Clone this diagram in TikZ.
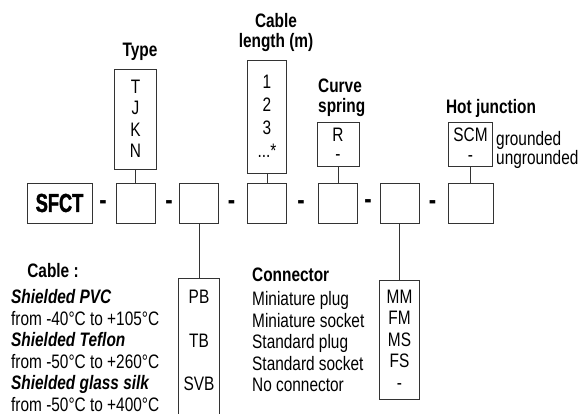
\documentclass[tikz,border=0pt]{standalone}
\usepackage{fontspec}
\setmainfont{Liberation Sans}[FakeStretch=0.79]
\newfontfamily\logofont{Liberation Sans}[FakeStretch=0.7,FakeBold=1.5]

\begin{document}
\begin{tikzpicture}[x=1pt,y=-1pt,font=\fontsize{19.5}{21.5}\selectfont]
\tikzstyle{codebox} = [rectangle, draw=black!80, line width=0.9pt, minimum width=39pt, minimum height=40pt, inner sep=0pt]
\tikzstyle{listbox} = [rectangle, draw=black!80, line width=0.9pt, align=center, inner sep=0pt]
\tikzstyle{heading} = [font=\fontsize{19.5}{20}\selectfont\bfseries, align=left, inner sep=0pt]
\tikzstyle{entry} = [align=left, inner sep=0pt]
\tikzstyle{sepdash} = [font=\fontsize{28}{28}\selectfont\bfseries, inner sep=0pt]

\useasboundingbox (0,0) rectangle (579,414);

% code row
\node(logo) [codebox, minimum width=65pt, font=\logofont\bfseries\fontsize{26}{26}\selectfont] at (59.5,203) {SFCT};
\node(dash1) [sepdash] at (103,205) {-};
\node(typecode) [codebox] at (135.5,203) {};
\node(dash2) [sepdash] at (169,205) {-};
\node(cablecode) [codebox] at (199,203) {};
\node(dash3) [sepdash] at (231.5,205) {-};
\node(lengthcode) [codebox] at (267,203) {};
\node(dash4) [sepdash] at (301,205) {-};
\node(springcode) [codebox] at (338,203) {};
\node(dash5) [sepdash] at (368,204) {-};
\node(connectorcode) [codebox] at (399.5,203) {};
\node(dash6) [sepdash] at (432.5,205) {-};
\node(junctioncode) [codebox, minimum width=45pt] at (470.5,203) {};

% options above
\node(typehead) [heading] at (140,52) {Type};
\node(types) [listbox, minimum width=42pt, minimum height=100pt] at (135.5,119) {T\\J\\K\\N};
\node(lengthhead) [heading, align=center] at (276,33) {Cable\\length (m)};
\node(lengths) [listbox, minimum width=39pt, minimum height=113pt, font=\fontsize{19.5}{23}\selectfont] at (267,116.5) {1\\2\\3\\...*};
\node(springhead) [heading, anchor=west] at (318,98) {Curve\\spring};
\node(springs) [listbox, minimum width=42pt, minimum height=44pt, font=\fontsize{19.5}{19.5}\selectfont] at (338,144.5) {R\\-};
\node(junctionhead) [heading] at (491,108) {Hot junction};
\node(junctions) [listbox, minimum width=44pt, minimum height=44pt, font=\fontsize{19.5}{19.5}\selectfont] at (470.5,144.5) {SCM\\-};
\node(junctionnames) [entry, anchor=west, font=\fontsize{19.5}{19}\selectfont] at (496,150) {grounded\\ungrounded};

% options below
\node(cablehead) [heading] at (53,271) {Cable :};
\node(cablenames) [entry, anchor=west] at (11,350.5) {\textbf{\textit{Shielded PVC}}\\from -40°C to +105°C\\
  \textbf{\textit{Shielded Teflon}}\\from -50°C to +260°C\\
  \textbf{\textit{Shielded glass silk}}\\from -50°C to +400°C};
\node(cabletypes) [listbox, minimum width=41pt, minimum height=150pt, anchor=north] at (199,278) {};
\node(cablecodes) [entry, align=center] at (199,340.5) {PB\\[22pt]TB\\[22pt]SVB};
\node(connectorhead) [heading, anchor=west] at (252,275) {Connector};
\node(connectornames) [entry, anchor=west] at (252,342) {Miniature plug\\Miniature socket\\Standard plug\\Standard socket\\No connector};
\node(connectortypes) [listbox, minimum width=40pt, minimum height=119pt] at (399.5,339.5) {MM\\FM\\MS\\FS\\-};

\draw[black!80, line width=0.9pt] (types) -- (typecode);
\draw[black!80, line width=0.9pt] (lengths) -- (lengthcode);
\draw[black!80, line width=0.9pt] (springs) -- (springcode);
\draw[black!80, line width=0.9pt] (junctions) -- (junctioncode);
\draw[black!80, line width=0.9pt] (cablecode) -- (cabletypes);
\draw[black!80, line width=0.9pt] (connectorcode) -- (connectortypes);
\end{tikzpicture}
\end{document}
